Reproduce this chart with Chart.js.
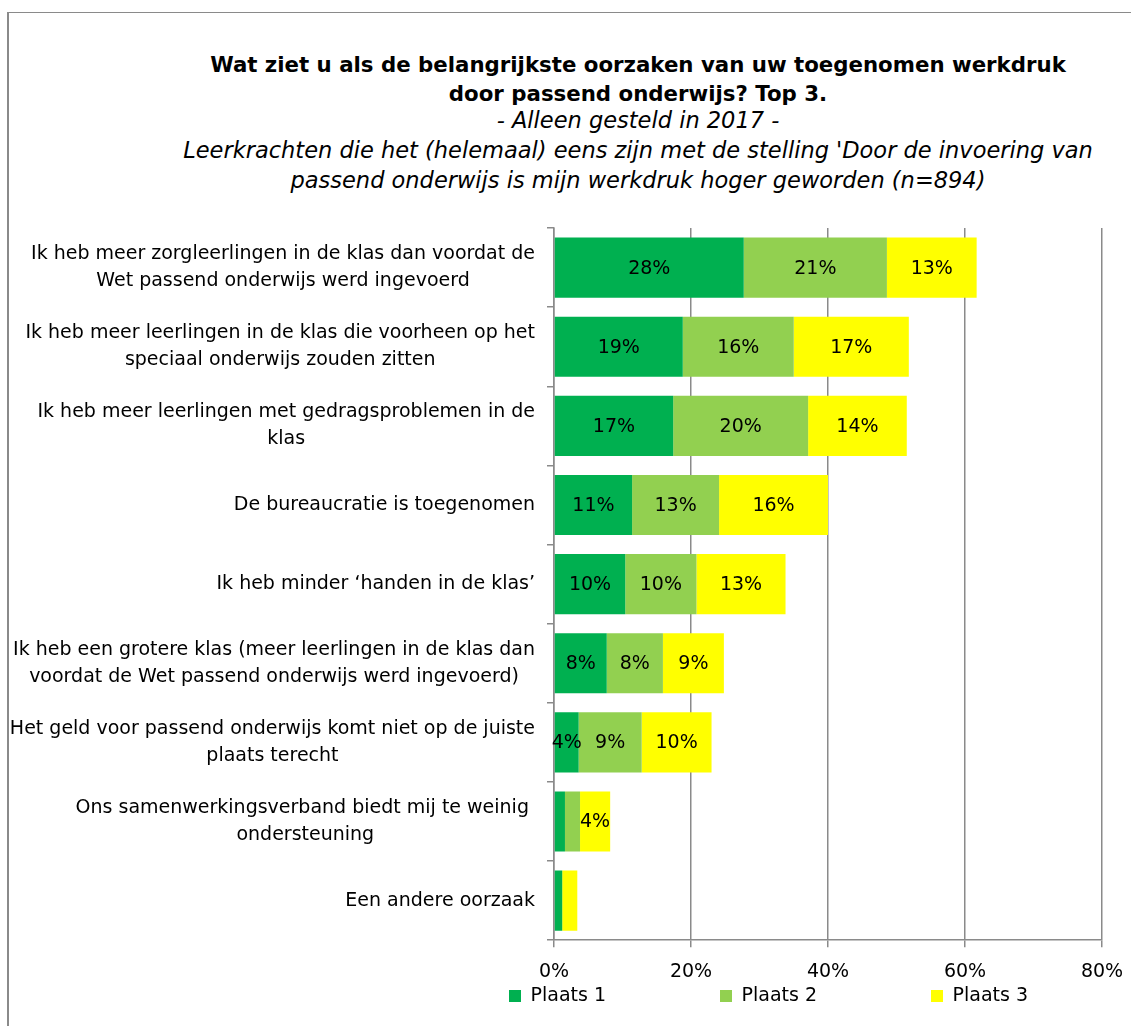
<!DOCTYPE html>
<html>
<head>
<meta charset="utf-8">
<script src="https://cdn.jsdelivr.net/npm/chart.js@4.4.1/dist/chart.umd.min.js"></script>
<style>
  html, body { margin: 0; padding: 0; background: #fff; }
  #wrap { position: relative; width: 1131px; height: 1026px; overflow: hidden; }
  #frame { position: absolute; left: 7px; top: 12px; right: -10px; bottom: -10px;
           border-left: 2px solid #8a8a8a; border-top: 1px solid #8a8a8a; }
  .ttl { position: absolute; left: 145px; width: 986px; text-align: center; white-space: nowrap;
         font-family: "DejaVu Sans", sans-serif; color: #000; }
  #title { top: 50px; font-size: 21.3px; font-weight: bold; line-height: 29px; }
  #sub { top: 105px; font-size: 22.5px; font-style: italic; line-height: 30px; }
  canvas { position: absolute; left: 0; top: 0; }
</style>
</head>
<body>
<div id="wrap">
  <div id="frame"></div>
  <div class="ttl" id="title">Wat ziet u als de belangrijkste oorzaken van uw toegenomen werkdruk<br>door passend onderwijs? Top 3.</div>
  <div class="ttl" id="sub">- Alleen gesteld in 2017 -<br>Leerkrachten die het (helemaal) eens zijn met de stelling 'Door de invoering van<br>passend onderwijs is mijn werkdruk hoger geworden (n=894)</div>
  <canvas id="chart" width="1131" height="1026"></canvas>
</div>
<script>
// oorzaken (regels zoals in de grafiek afgebroken)
const categories = [
  ['Ik heb meer zorgleerlingen in de klas dan voordat de', 'Wet passend onderwijs werd ingevoerd'],
  ['Ik heb meer leerlingen in de klas die voorheen op het', 'speciaal onderwijs zouden zitten'],
  ['Ik heb meer leerlingen met gedragsproblemen in de', 'klas'],
  ['De bureaucratie is toegenomen'],
  ['Ik heb minder \u2018handen in de klas\u2019'],
  ['Ik heb een grotere klas (meer leerlingen in de klas dan', 'voordat de Wet passend onderwijs werd ingevoerd)'],
  ['Het geld voor passend onderwijs komt niet op de juiste', 'plaats terecht'],
  ['Ons samenwerkingsverband biedt mij te weinig ', 'ondersteuning'],
  ['Een andere oorzaak']
];

const seriesNames = ['Plaats 1', 'Plaats 2', 'Plaats 3'];
const plaats1 = [27.7, 18.8, 17.4, 11.4, 10.4, 7.7, 3.6, 1.6, 1.2];
const plaats2 = [20.9, 16.2, 19.7, 12.7, 10.4, 8.2, 9.2, 2.2, 0];
const plaats3 = [13.1, 16.8, 14.4, 15.9, 13.0, 8.9, 10.2, 4.4, 2.2];
const xTicks = [0, 20, 40, 60, 80];

const FONT = '"DejaVu Sans", sans-serif';
const grey = '#8a8a8a';

// y-labels: blok rechts uitgelijnd, regels gecentreerd (zoals Excel)
const yLabels = {
  id: 'yLabels',
  afterDraw(chart) {
    const ctx = chart.ctx;
    const y = chart.scales.y;
    ctx.save();
    ctx.font = '19px ' + FONT;
    ctx.fillStyle = '#000';
    ctx.textAlign = 'center';
    ctx.textBaseline = 'middle';
    categories.forEach((lines, i) => {
      const w = Math.max(...lines.map(l => ctx.measureText(l).width));
      const cx = 535 - w / 2;
      const cy = y.getPixelForValue(i);
      lines.forEach((l, j) => ctx.fillText(l, cx, cy + (j - (lines.length - 1) / 2) * 27));
    });
    ctx.restore();
  }
};

// percentages in de balken
const barLabels = {
  id: 'barLabels',
  afterDatasetsDraw(chart) {
    const ctx = chart.ctx;
    ctx.save();
    ctx.font = '19px ' + FONT;
    ctx.fillStyle = '#000';
    ctx.textAlign = 'center';
    ctx.textBaseline = 'middle';
    chart.data.datasets.forEach((ds, di) => {
      chart.getDatasetMeta(di).data.forEach((bar, i) => {
        const v = ds.data[i];
        if (v < 3) return;
        const p = bar.getCenterPoint();
        ctx.fillText(Math.round(v) + '%', p.x, p.y + 1);
      });
    });
    ctx.restore();
  }
};

// legenda onder het plotgebied plaatsen
const legendPos = {
  id: 'legendPos',
  afterLayout(chart) {
    const l = chart.legend;
    const pad = l.options.labels.padding;
    l.right = 1300;
    l.left = 2 * 768.5 - l.right;
    l.width = l.right - l.left;
    l.top = 996 - 9.5 - pad;
    l.bottom = 1026;
    l.height = l.bottom - l.top;
  }
};

new Chart(document.getElementById('chart'), {
  type: 'bar',
  data: {
    labels: categories.map(c => c.join(' ')),
    datasets: [
      { label: seriesNames[0], data: plaats1, backgroundColor: '#00B050' },
      { label: seriesNames[1], data: plaats2, backgroundColor: '#92D050' },
      { label: seriesNames[2], data: plaats3, backgroundColor: '#FFFF00' }
    ]
  },
  options: {
    indexAxis: 'y',
    responsive: false,
    animation: false,
    layout: { padding: { top: 228, right: 29, bottom: 0, left: 0 } },
    datasets: { bar: { categoryPercentage: 1, barPercentage: 0.76 } },
    scales: {
      x: {
        stacked: true,
        min: 0,
        max: 80,
        afterBuildTicks(scale) { scale.ticks = xTicks.map(v => ({ value: v })); },
        afterFit(scale) { scale.paddingLeft = 0; scale.paddingRight = 0; },
        ticks: { callback: v => v + '%', color: '#000', font: { family: FONT, size: 19 }, padding: 13, maxRotation: 0 },
        grid: { color: grey, lineWidth: 1.5, tickLength: 7 },
        border: { color: grey, width: 1.5 }
      },
      y: {
        stacked: true,
        afterFit(scale) { scale.width = 554; },
        ticks: { display: false },
        grid: { drawOnChartArea: false, color: grey, lineWidth: 1.5, tickLength: 7 },
        border: { color: grey, width: 1.5 }
      }
    },
    plugins: {
      legend: {
        position: 'bottom',
        maxHeight: 30,
        labels: { boxWidth: 12, boxHeight: 12, padding: 114, color: '#000', font: { family: FONT, size: 19 } }
      },
      tooltip: { enabled: false }
    }
  },
  plugins: [yLabels, barLabels, legendPos]
});
</script>
</body>
</html>
